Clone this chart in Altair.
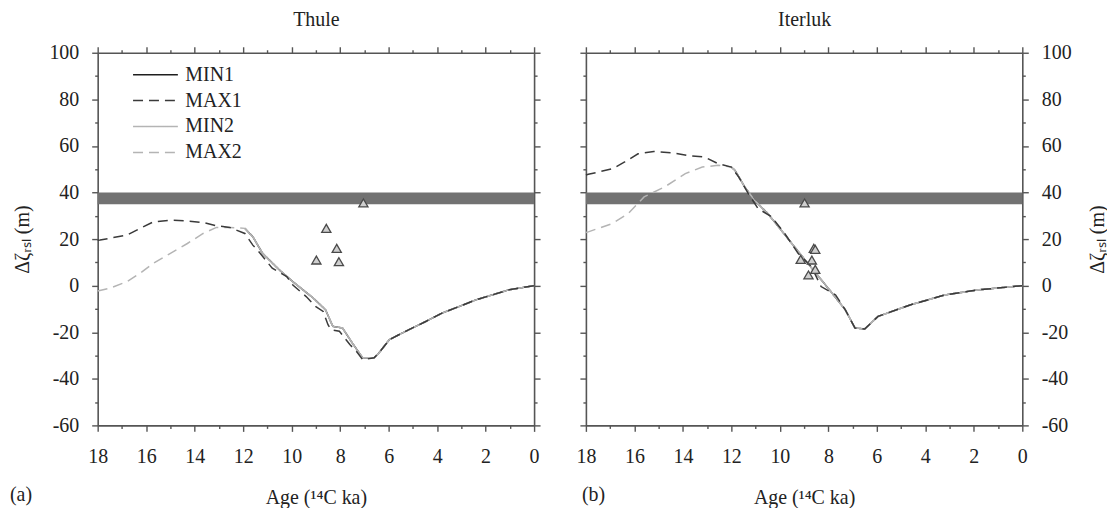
import altair as alt
import pandas as pd

FONT = "Liberation Serif"
TXT = "#222222"
FRAME = "#555555"

SERIES = ["MIN1", "MAX1", "MIN2", "MAX2"]
SERIES_COLORS = ["#1e1e1e", "#3a3a3a", "#b4b4b4", "#b4b4b4"]
SERIES_DASH = [[1, 0], [10, 6], [1, 0], [10, 6]]

# ---------------- Thule ----------------
thule_max1_age = [18, 17.9, 16.8, 16.25, 15.7, 15.0, 14.3, 13.65, 13.1, 12.55, 11.93,
                  11.6, 11.3, 10.8, 10.2, 9.95, 9.4, 9.0, 8.7, 8.5, 8.37, 8.03, 7.6,
                  7.33, 7.07, 6.6, 6.4, 5.97, 5.3, 4.47, 3.8, 3.1, 2.4, 1.73, 1.04, 0]
thule_max1_val = [19.5, 19.6, 21.7, 24.6, 27.4, 28.1, 27.8, 27.1, 25.7, 25.0, 22.4,
                  17.4, 13.9, 7.5, 3.9, 0.3, -4.7, -9.0, -11.1, -16.8, -18.9, -19.6, -25.3,
                  -28.2, -31.8, -31.0, -28.9, -23.2, -19.6, -15.4, -11.8, -9.0, -6.1, -4.0, -1.8, 0]
thule_max2_age = [18, 17.5, 16.8, 16.25, 15.7, 15.0, 14.3, 13.65, 13.1, 12.55, 11.93,
                  11.6, 11.2, 10.5, 9.95, 9.1, 8.6, 8.3, 7.9, 7.5, 7.07, 6.6, 6.4,
                  5.97, 5.3, 4.47, 3.8, 3.1, 2.4, 1.73, 1.04, 0]
thule_max2_val = [-2.3, -1.1, 1.7, 5.3, 9.6, 13.9, 18.1, 22.4, 25.0, 25.0, 24.6,
                  21.0, 13.9, 6.7, 1.7, -5.4, -10.4, -17.5, -18.2, -24.6, -31.0, -31.0, -28.9,
                  -23.2, -19.6, -15.4, -11.8, -9.0, -6.1, -4.0, -1.8, 0]
# MIN1 lies underneath MIN2 (not visible in the figure)
thule_min1_age = [11.93, 11.6, 11.2, 10.5, 9.95, 9.1, 8.6, 8.3, 7.9, 7.5, 7.07, 6.6, 6.4,
                  5.97, 5.3, 4.47, 3.8, 3.1, 2.4, 1.73, 1.04, 0]
thule_min1_val = [24.6, 21.0, 13.9, 6.7, 1.7, -5.4, -10.4, -17.5, -18.2, -24.6, -31.0, -31.0, -28.9,
                  -23.2, -19.6, -15.4, -11.8, -9.0, -6.1, -4.0, -1.8, 0]
thule_min2_age = [11.93, 11.6, 11.2, 10.5, 9.95, 9.1, 8.6, 8.3, 7.9, 7.5, 7.07, 6.6, 6.4,
                  5.97, 5.3, 4.47, 3.8, 3.1, 2.4, 1.73, 1.04, 0]
thule_min2_val = [24.6, 21.0, 13.9, 6.7, 1.7, -5.4, -10.4, -17.5, -18.2, -24.6, -31.0, -31.0, -28.9,
                  -23.2, -19.6, -15.4, -11.8, -9.0, -6.1, -4.0, -1.8, 0]
thule_obs_age = [7.04, 8.57, 8.14, 8.98, 8.05]
thule_obs_val = [35.5, 24.6, 16.0, 11.0, 10.3]

# ---------------- Iterluk ----------------
iterluk_max1_age = [18, 17.9, 16.9, 16.4, 15.85, 15.2, 14.5, 13.8, 13.1, 12.55, 12.0,
                    11.7, 11.3, 10.9, 10.35, 9.8, 9.25, 8.7, 8.3, 7.7, 7.3, 6.9, 6.5,
                    5.95, 4.6, 3.2, 1.8, 0]
iterluk_max1_val = [47.5, 47.8, 50.2, 53.1, 56.6, 57.6, 57.1, 55.9, 55.2, 52.4, 50.9,
                    46.7, 39.5, 33.1, 29.6, 22.4, 13.9, 8.2, -0.4, -4.0, -10.4, -18.2, -18.6,
                    -13.2, -8.2, -4.0, -1.8, 0]
iterluk_max2_age = [18, 17.9, 16.9, 16.25, 15.6, 14.75, 13.9, 13.2, 12.55, 12.0,
                    11.85, 11.45, 11.05, 10.5, 9.95, 9.4, 8.85, 8.4, 7.9, 7.3, 6.9, 6.5,
                    5.95, 4.6, 3.2, 1.8, 0]
iterluk_max2_val = [22.8, 23.1, 26.7, 31.0, 38.1, 42.4, 48.1, 50.9, 51.7, 50.9,
                    49.5, 42.4, 36.7, 31.0, 23.9, 16.7, 9.6, 3.9, -2.5, -10.4, -18.2, -18.6,
                    -13.2, -8.2, -4.0, -1.8, 0]
# MIN1 lies underneath MIN2 (not visible in the figure)
iterluk_min1_age = [12.0, 11.85, 11.45, 11.05, 10.5, 9.95, 9.4, 8.85, 8.4, 7.9, 7.3, 6.9, 6.5,
                    5.95, 4.6, 3.2, 1.8, 0]
iterluk_min1_val = [50.9, 49.5, 42.4, 36.7, 31.0, 23.9, 16.7, 9.6, 3.9, -2.5, -10.4, -18.2, -18.6,
                    -13.2, -8.2, -4.0, -1.8, 0]
iterluk_min2_age = [12.0, 11.85, 11.45, 11.05, 10.5, 9.95, 9.4, 8.85, 8.4, 7.9, 7.3, 6.9, 6.5,
                    5.95, 4.6, 3.2, 1.8, 0]
iterluk_min2_val = [50.9, 49.5, 42.4, 36.7, 31.0, 23.9, 16.7, 9.6, 3.9, -2.5, -10.4, -18.2, -18.6,
                    -13.2, -8.2, -4.0, -1.8, 0]
iterluk_obs_age = [8.98, 8.6, 8.54, 9.14, 8.68, 8.54, 8.82]
iterluk_obs_val = [35.5, 16.0, 15.6, 11.3, 11.0, 7.0, 4.6]

# shaded band (same in both panels)
band_age = [18, 0]
band_val = [35, 40]

X_TITLE = "Age (\u00b9\u2074C ka)"
Y_TITLE = "\u0394\u03b6\u1d63\u209b\u2097 (m)"

x_ticks = list(range(0, 19))
y_ticks = list(range(-60, 101, 10))
x_tick_size = {"condition": {"test": "datum.value % 2 === 0", "value": 6}, "value": 3}
y_tick_size = {"condition": {"test": "datum.value % 20 === 0", "value": 6}, "value": 3}

W, H = 438, 374


def axis(orient, labels, title=None, ticks=None, tsize=None, is_x=True, **extra):
    kw = dict(
        orient=orient, values=ticks, tickSize=tsize, tickColor=FRAME, tickWidth=1.4,
        domainColor=FRAME, domainWidth=1.6, grid=False, labels=labels,
        labelFont=FONT, labelFontSize=20, labelColor=TXT,
        labelPadding=15 if is_x else 13,
        labelOverlap=False, labelFlush=False,
        labelExpr=("datum.value % 2 === 0 ? '' + datum.value : ''" if is_x
                   else "datum.value % 20 === 0 ? '' + datum.value : ''"),
        titleFont=FONT, titleFontSize=20, titleFontWeight="normal", titleColor=TXT,
    )
    kw["title"] = title
    kw.update(extra)
    if title is None:
        kw["title"] = None
    return alt.Axis(**kw)


def lines_df(ages, vals, name):
    return pd.DataFrame({"age": ages, "val": vals, "series": name})


def panel(title, series_data, obs_age, obs_val, left_labels, show_legend):
    xs = alt.Scale(domain=[0, 18], reverse=True, nice=False, zero=False)
    ys = alt.Scale(domain=[-60, 100], nice=False, zero=False)
    cscale = alt.Scale(domain=SERIES, range=SERIES_COLORS)
    dscale = alt.Scale(domain=SERIES, range=SERIES_DASH)
    if show_legend:
        # long horizontal stroke: path spans twice the symbol box width
        leg = alt.Legend(title=None, orient="none", legendX=46, legendY=10,
                         symbolType="M-2,0L2,0", symbolSize=506, symbolStrokeWidth=1.5,
                         labelFont=FONT, labelFontSize=20, labelColor=TXT,
                         labelOffset=18, rowPadding=4, padding=0)
    else:
        leg = None

    top_ax = axis("top", False, title=title, ticks=x_ticks, tsize=x_tick_size, titlePadding=17)
    bottom_ax = axis("bottom", True, title=X_TITLE, ticks=x_ticks, tsize=x_tick_size,
                     titlePadding=21)
    if left_labels:
        lab_y = axis("left", True, title=Y_TITLE, ticks=y_ticks, tsize=y_tick_size,
                     is_x=False, titlePadding=16)
        plain_y = axis("right", False, ticks=y_ticks, tsize=y_tick_size, is_x=False)
    else:
        lab_y = axis("right", True, title=Y_TITLE, ticks=y_ticks, tsize=y_tick_size,
                     is_x=False, titlePadding=16, titleAngle=270, titleBaseline="top")
        plain_y = axis("left", False, ticks=y_ticks, tsize=y_tick_size, is_x=False)

    band = alt.Chart(pd.DataFrame({"a0": [band_age[0]], "a1": [band_age[1]],
                                   "v0": [band_val[0]], "v1": [band_val[1]]})).mark_rect(
        color="#727272").encode(
        x=alt.X("a0:Q", scale=xs, axis=top_ax),
        x2="a1:Q",
        y=alt.Y("v0:Q", scale=ys, axis=plain_y),
        y2="v1:Q",
    )

    layers = [band]
    order = ["MIN1", "MIN2", "MAX2", "MAX1"]
    for i, name in enumerate(order):
        ages, vals = series_data[name]
        first = i == 0
        ln = alt.Chart(lines_df(ages, vals, name)).mark_line(strokeWidth=1.5).encode(
            x=alt.X("age:Q", scale=xs, axis=bottom_ax if first else None),
            y=alt.Y("val:Q", scale=ys, axis=lab_y if first else None),
            color=alt.Color("series:N", scale=cscale, legend=leg),
            strokeDash=alt.StrokeDash("series:N", scale=dscale, legend=leg),
            order=alt.Order("idx:Q"),
        ).transform_window(idx="row_number()")
        layers.append(ln)

    pts = alt.Chart(pd.DataFrame({"age": obs_age, "val": obs_val})).mark_point(
        shape="triangle-up", filled=True, fill="#cfcfcf", stroke="#4a4a4a",
        strokeWidth=1.3, size=85, opacity=1).encode(
        x=alt.X("age:Q", scale=xs, axis=None),
        y=alt.Y("val:Q", scale=ys, axis=None),
    )
    layers.append(pts)

    return alt.layer(*layers).resolve_axis(x="independent", y="independent").properties(
        width=W, height=H)


def panel_label(txt, dx):
    return alt.TitleParams(txt, orient="bottom", anchor="start", frame="bounds",
                           font=FONT, fontSize=20, fontWeight="normal", color=TXT,
                           offset=0, dy=-22, dx=dx)


thule = panel("Thule", {
    "MIN1": (thule_min1_age, thule_min1_val),
    "MAX1": (thule_max1_age, thule_max1_val),
    "MIN2": (thule_min2_age, thule_min2_val),
    "MAX2": (thule_max2_age, thule_max2_val),
}, thule_obs_age, thule_obs_val, True, True).properties(title=panel_label("(a)", -3))

iterluk = panel("Iterluk", {
    "MIN1": (iterluk_min1_age, iterluk_min1_val),
    "MAX1": (iterluk_max1_age, iterluk_max1_val),
    "MIN2": (iterluk_min2_age, iterluk_min2_val),
    "MAX2": (iterluk_max2_age, iterluk_max2_val),
}, iterluk_obs_age, iterluk_obs_val, False, False).properties(title=panel_label("(b)", 6))

chart = alt.hconcat(thule, iterluk, spacing=52, bounds="flush").resolve_legend(
    color="independent", strokeDash="independent").properties(
    padding={"left": 2, "top": 0, "right": 0, "bottom": 0}).configure_view(
    stroke=None).configure_axis(labelFont=FONT, titleFont=FONT).configure_legend(
    labelFont=FONT).configure_title(font=FONT)

chart.save("out.html", embed_options={"renderer": "svg", "actions": False})
